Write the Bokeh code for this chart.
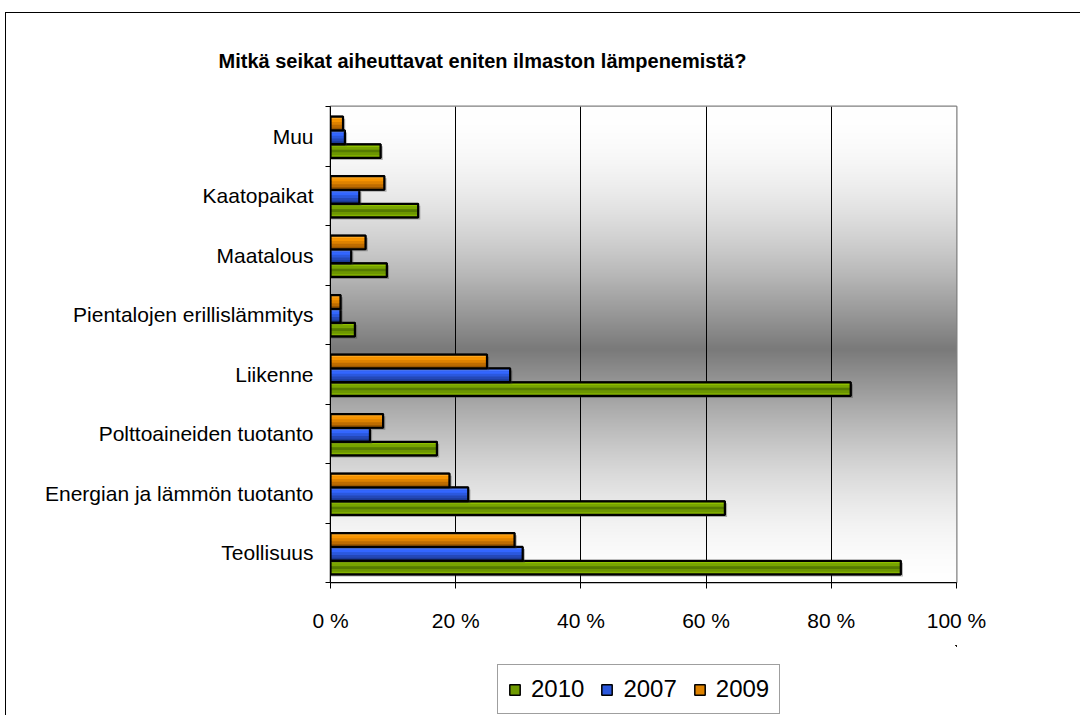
import numpy as np
from bokeh.plotting import figure
from bokeh.layouts import column
from bokeh.models import (FixedTicker, Range1d, Legend, LegendItem, ColumnDataSource)
from bokeh.embed import file_html
from bokeh.resources import INLINE

# ---------------- data ----------------
categories = ["Teollisuus", "Energian ja lämmön tuotanto", "Polttoaineiden tuotanto",
              "Liikenne", "Pientalojen erillislämmitys", "Maatalous", "Kaatopaikat", "Muu"]
v2010 = [91.1, 63.0, 17.0, 83.1, 3.9, 9.0, 14.0, 8.0]
v2007 = [30.7, 22.0, 6.3, 28.7, 1.6, 3.3, 4.6, 2.3]
v2009 = [29.4, 19.0, 8.4, 25.0, 1.6, 5.6, 8.6, 2.0]
series_names = ["2010", "2007", "2009"]
x_ticks = [0, 20, 40, 60, 80, 100]
x_tick_labels = ["0 %", "20 %", "40 %", "60 %", "80 %", "100 %"]
title_text = "Mitkä seikat aiheuttavat eniten ilmaston lämpenemistä?"

# ---------------- styles ----------------
FONT = "Liberation Sans"
series_values = [v2010, v2007, v2009]
series_offsets = [-0.233, 0.0, 0.233]
series_strips = [
    ["#8fc000", "#78a400", "#557a00", "#6c9600", "#84b200"],   # green
    ["#4a78ff", "#3366ff", "#2b58dd", "#2448b8", "#1c3a94"],   # blue
    ["#ffa820", "#f79400", "#de8200", "#be6c00", "#9c5800"],   # orange
]
series_base = ["#6f9a00", "#2b58dd", "#de8200"]
bar_h = 0.23
center_rel = 0.483

p = figure(width=1080, height=645, output_backend="svg", toolbar_location=None,
           x_range=Range1d(0, 100), y_range=Range1d(0, len(categories)),
           min_border_left=330, min_border_right=124, min_border_top=106,
           min_border_bottom=63)
p.background_fill_color = "white"
p.border_fill_alpha = 0
p.outline_line_color = "#808080"
p.outline_line_width = 2

# title
p.title.text = title_text
p.title.align = "left"
p.title.offset = -112
p.title.standoff = 70
p.title.text_font = FONT
p.title.text_font_size = "20px"
p.title.text_font_style = "bold"
p.title.text_color = "black"

# background gradient of the plot area (white - gray - white)
H = 480
t = (np.arange(H) + 0.5) / H          # 0 at bottom
d = np.clip(np.abs(t - 0.49) / 0.51, 0, 1)
g = (122 + 133 * np.sin(np.pi / 2 * d)).astype(np.uint8)
img = np.zeros((H, 2), dtype=np.uint32)
view = img.view(dtype=np.uint8).reshape((H, 2, 4))
view[:, :, 0] = g[:, None]
view[:, :, 1] = g[:, None]
view[:, :, 2] = g[:, None]
view[:, :, 3] = 255
bg = p.image_rgba(image=[img], x=0, y=0, dw=100, dh=len(categories))
bg.level = "image"

# grid
p.xgrid.ticker = FixedTicker(ticks=x_ticks[1:-1])
p.xgrid.grid_line_color = "black"
p.xgrid.grid_line_width = 1
p.ygrid.visible = False

# bars
n_strips = 5
sources = []
for name, vals, off, strips, base in zip(series_names, series_values, series_offsets,
                                         series_strips, series_base):
    yc = [i + center_rel + off for i in range(len(categories))]
    # shadow
    p.hbar(y=[y - 0.035 for y in yc], left=0, right=[v + 0.35 for v in vals],
           height=bar_h, fill_color="#303030", fill_alpha=0.35, line_color=None)
    src = ColumnDataSource(dict(y=yc, right=vals))
    sources.append(src)
    p.hbar(y="y", left=0, right="right", height=bar_h, source=src,
           fill_color=base, line_color="black", line_width=1.5)
    sh = bar_h / n_strips
    for j, col in enumerate(strips):
        ys = [y + bar_h / 2 - (j + 0.5) * sh for y in yc]
        p.hbar(y=ys, left=0, right=vals, height=sh * 1.02, fill_color=col,
               line_color=None)
    p.hbar(y="y", left=0, right="right", height=bar_h, source=src,
           fill_color=None, line_color="black", line_width=2.2)

# x axis
xa = p.xaxis[0]
xa.ticker = FixedTicker(ticks=x_ticks, minor_ticks=[])
xa.major_label_overrides = {tv: lab for tv, lab in zip(x_ticks, x_tick_labels)}
xa.major_tick_out = 6
xa.major_tick_in = 0
xa.minor_tick_out = 0
xa.axis_line_color = "black"
xa.major_tick_line_color = "black"
xa.major_label_standoff = 20
xa.major_label_text_font = FONT
xa.major_label_text_font_size = "21px"
xa.major_label_text_color = "black"

# y axis
ya = p.yaxis[0]
centers = [i + 0.5 for i in range(len(categories))]
ya.ticker = FixedTicker(ticks=centers, minor_ticks=list(range(len(categories) + 1)))
ya.major_label_overrides = {c: lab for c, lab in zip(centers, categories)}
ya.major_tick_out = 0
ya.major_tick_in = 0
ya.minor_tick_out = 5
ya.minor_tick_in = 0
ya.minor_tick_line_color = "black"
ya.axis_line_color = "black"
ya.major_label_standoff = 12
ya.major_label_text_font = FONT
ya.major_label_text_font_size = "21px"
ya.major_label_text_color = "black"

# ---------------- legend strip (its frame is aligned with the main frame) ----------------
p2 = figure(width=1080, height=70, output_backend="svg", toolbar_location=None,
            x_axis_type=None, y_axis_type=None, x_range=Range1d(-300, -200),
            y_range=Range1d(-300, -200), min_border=0)
p2.background_fill_alpha = 0
p2.border_fill_alpha = 0
p2.outline_line_color = None
p2.xgrid.visible = False
p2.ygrid.visible = False
items = []
for name, base, src in zip(series_names, series_base, sources):
    # same bars, far outside this strip's view; only used for the legend swatch
    r = p2.hbar(y="y", left=0, right="right", height=bar_h, source=src,
                fill_color=base, line_color="black", line_width=1.5)
    items.append(LegendItem(label=name, renderers=[r]))
legend = Legend(items=items, orientation="horizontal", location=(167, 1))
legend.glyph_width = 13
legend.glyph_height = 13
legend.label_standoff = 10
legend.spacing = 16
legend.padding = 10
legend.margin = 0
legend.label_text_font = FONT
legend.label_text_font_size = "24px"
legend.label_text_color = "black"
legend.border_line_color = "#404040"
legend.border_line_width = 1
legend.background_fill_color = "white"
legend.background_fill_alpha = 1
p2.add_layout(legend, "center")

layout = column(p, p2, spacing=0, styles={
    "background": "linear-gradient(#000,#000) 5px 12px / 1px 100% no-repeat, "
                  "linear-gradient(#000,#000) 5px 12px / 100% 1px no-repeat, #fff"})

open("out.html", "w").write(file_html(layout, INLINE))
